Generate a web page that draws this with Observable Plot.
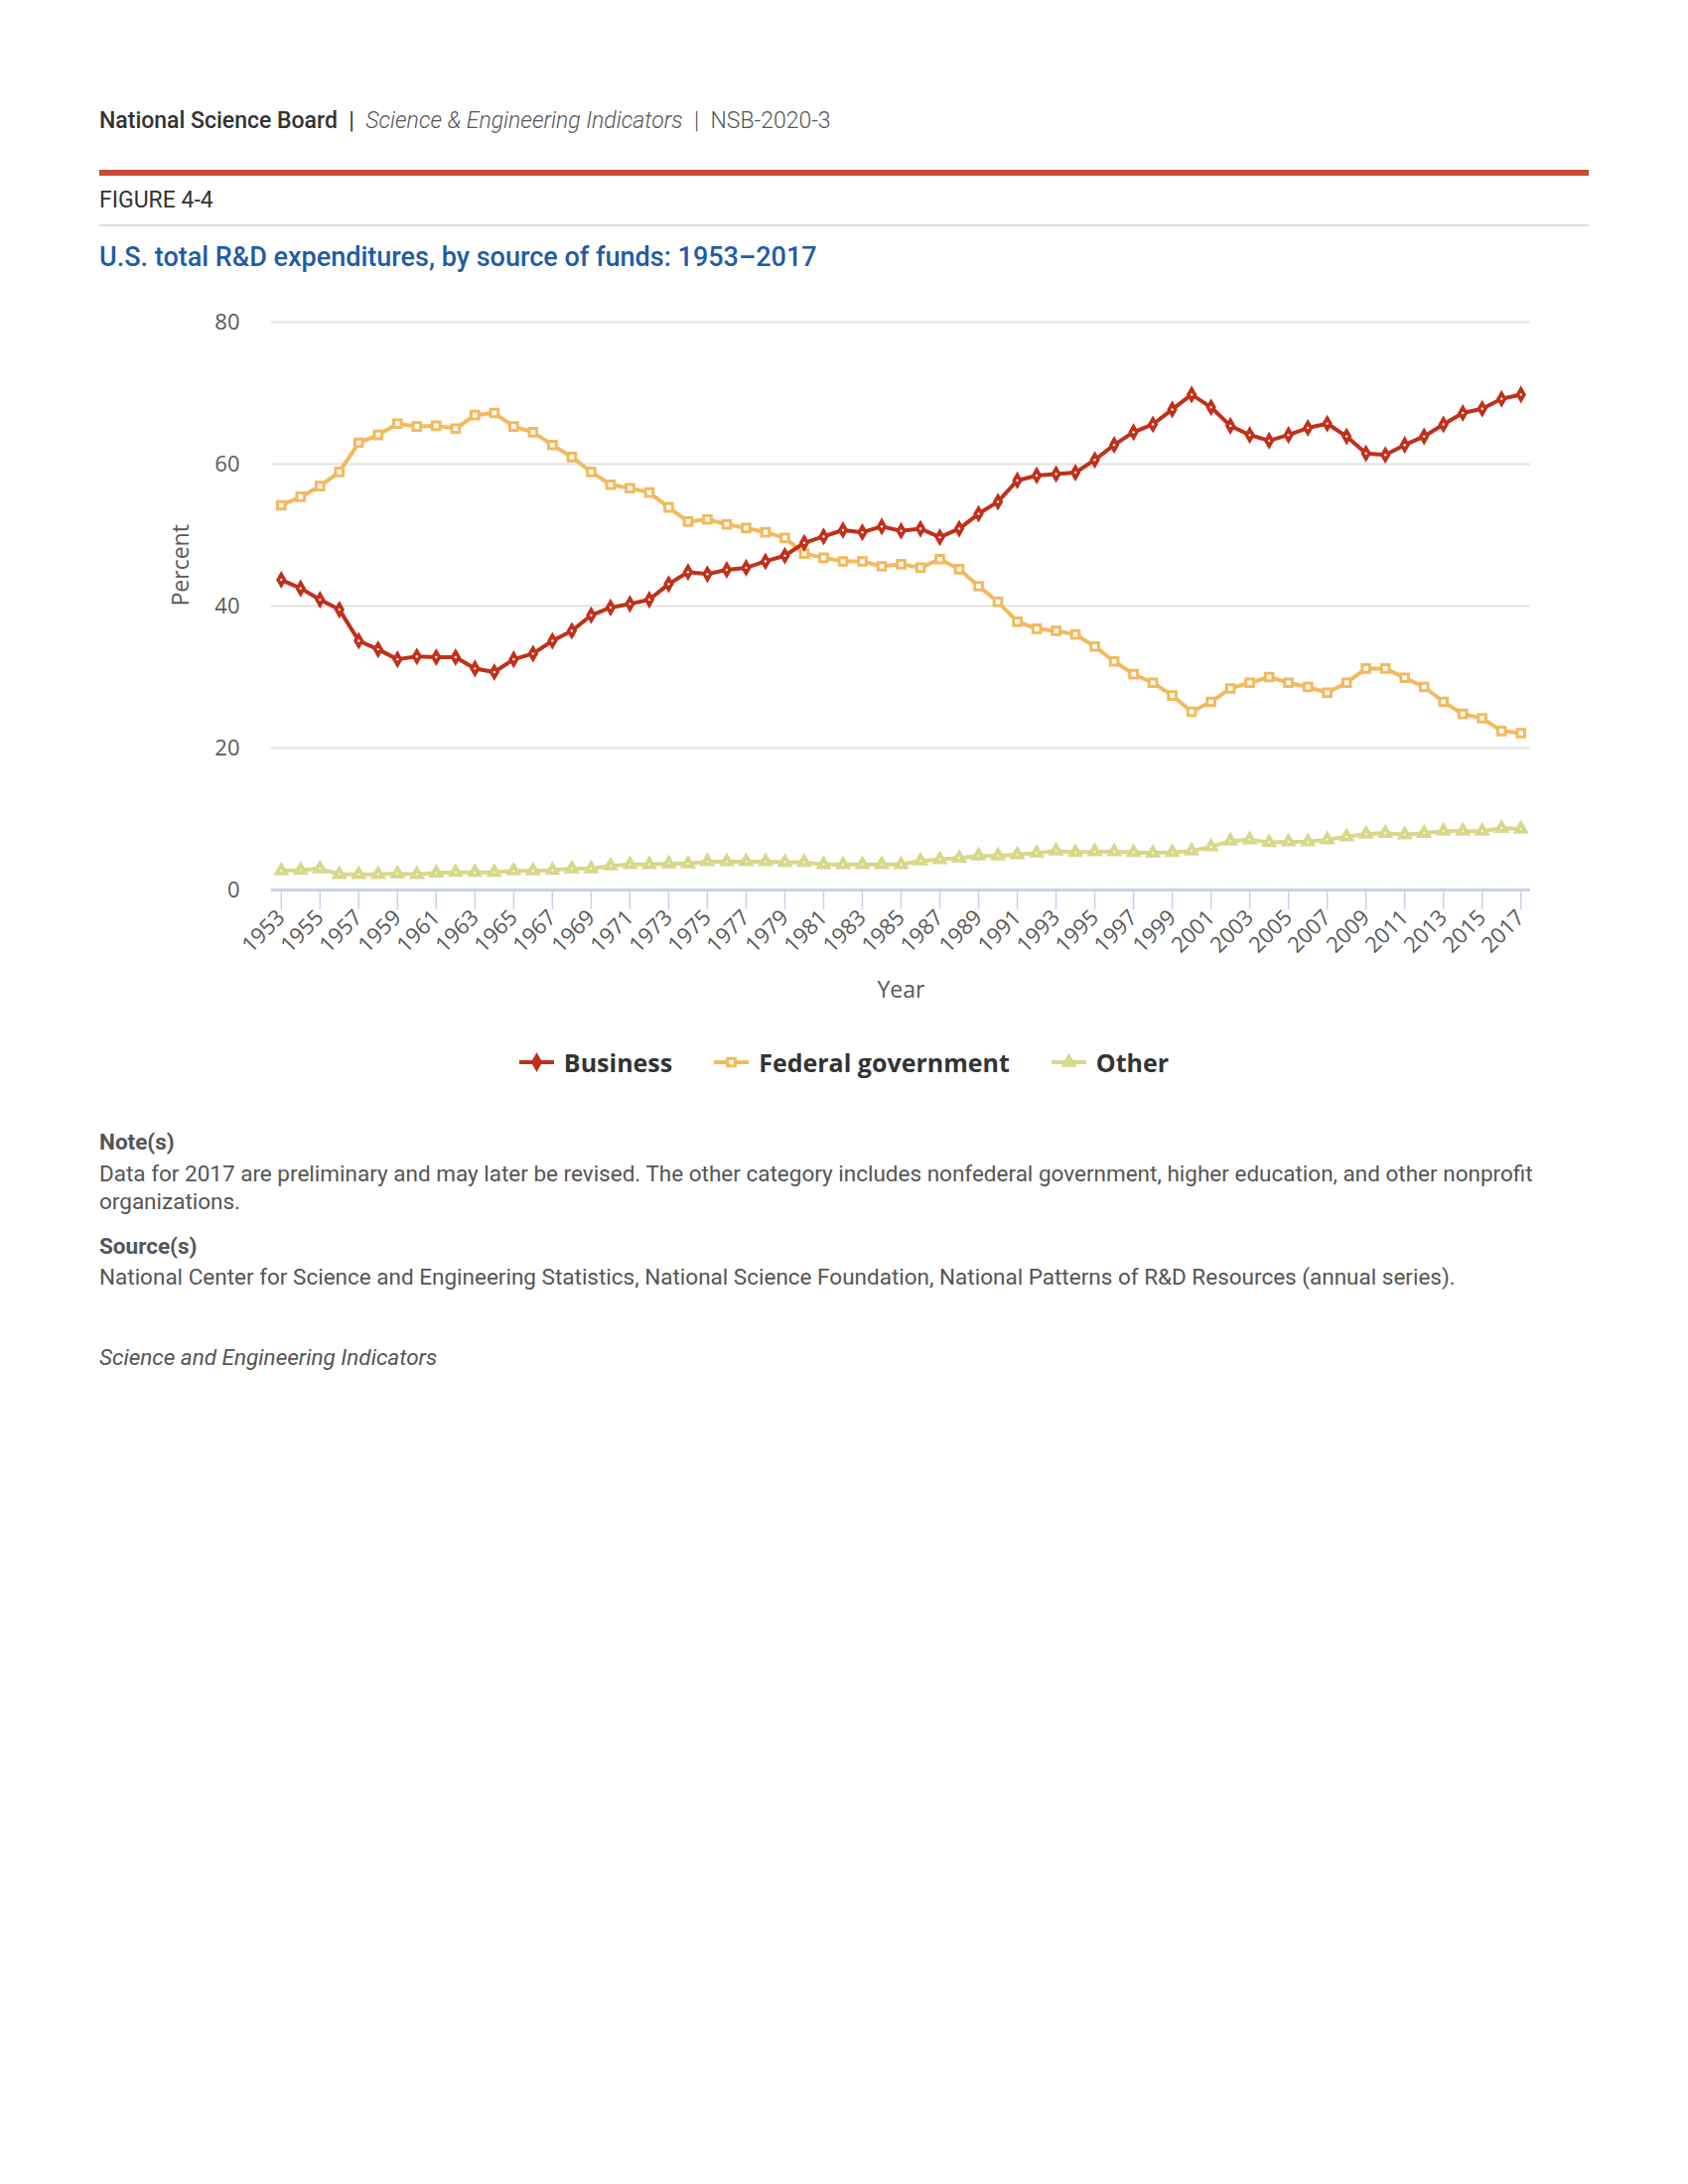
<!DOCTYPE html>
<html>
<head>
<meta charset="utf-8">
<script src="https://cdn.jsdelivr.net/npm/d3@7"></script>
<script src="https://cdn.jsdelivr.net/npm/@observablehq/plot@0.6"></script>
<style>
  html, body { margin: 0; padding: 0; background: #fff; }
  body { width: 1700px; height: 2200px; position: relative; font-family: Roboto, "Liberation Sans", sans-serif; }
  .abs { position: absolute; left: 100px; white-space: nowrap; }
  .hdr { top: 108px; font-size: 23px; line-height: 28px; color: #333; }
  .hdr b { font-weight: 500; }
  .hdr i { font-weight: 300; color: #555; }
  .hdr .lt { font-weight: 300; color: #555; }
  .redbar { top: 171px; width: 1500px; height: 6px; background: #c94a37; }
  .fig { top: 188px; font-size: 23px; line-height: 28px; color: #333; }
  .grayline { top: 226px; width: 1500px; height: 2px; background: #dcdcdc; }
  .title { top: 243px; font-size: 27px; line-height: 32px; color: #1f5ba8; font-weight: 500; }
  .note-h { font-size: 22.5px; line-height: 28px; color: #555; font-weight: 700; }
  .note-t { font-size: 22.5px; line-height: 28px; color: #555; width: 1500px; white-space: normal; }
  .foot { font-size: 22.5px; line-height: 28px; color: #555; font-style: italic; }
  #chart { position: absolute; left: 0; top: 300px; }
  #legend { position: absolute; left: 0; top: 1050px; width: 1700px; height: 40px; display: flex; justify-content: center; align-items: center; font-family: "Open Sans", sans-serif; font-weight: 700; font-size: 25px; color: #333; }
  .item { display: flex; align-items: center; margin: 0 21px; }
  .item svg { margin-right: 10px; }
</style>
</head>
<body>
<div class="abs hdr"><b>National Science Board</b>&nbsp; <span>|</span>&nbsp; <i>Science &amp; Engineering Indicators</i>&nbsp; <span class="lt">|</span>&nbsp; <span class="lt">NSB-2020-3</span></div>
<div class="abs redbar"></div>
<div class="abs fig">FIGURE 4-4</div>
<div class="abs grayline"></div>
<div class="abs title">U.S. total R&amp;D expenditures, by source of funds: 1953–2017</div>
<div id="chart"></div>
<div id="legend"></div>
<div class="abs note-h" style="top:1136px">Note(s)</div>
<div class="abs note-t" style="top:1168px">Data for 2017 are preliminary and may later be revised. The other category includes nonfederal government, higher education, and other nonprofit organizations.</div>
<div class="abs note-h" style="top:1241px">Source(s)</div>
<div class="abs note-t" style="top:1272px">National Center for Science and Engineering Statistics, National Science Foundation, National Patterns of R&amp;D Resources (annual series).</div>
<div class="abs foot" style="top:1353px">Science and Engineering Indicators</div>

<script>
const years = [1953,1954,1955,1956,1957,1958,1959,1960,1961,1962,1963,1964,1965,1966,1967,1968,1969,1970,1971,1972,1973,1974,1975,1976,1977,1978,1979,1980,1981,1982,1983,1984,1985,1986,1987,1988,1989,1990,1991,1992,1993,1994,1995,1996,1997,1998,1999,2000,2001,2002,2003,2004,2005,2006,2007,2008,2009,2010,2011,2012,2013,2014,2015,2016,2017];
const tickYears = [1953,1955,1957,1959,1961,1963,1965,1967,1969,1971,1973,1975,1977,1979,1981,1983,1985,1987,1989,1991,1993,1995,1997,1999,2001,2003,2005,2007,2009,2011,2013,2015,2017];
const yTicks = [0,20,40,60,80];

const business = [43.7,42.5,40.9,39.5,35.1,33.9,32.5,32.9,32.8,32.8,31.2,30.7,32.5,33.3,35.1,36.5,38.7,39.8,40.3,40.9,43.1,44.8,44.5,
  45.1,45.4,46.3,47.1,48.9,49.8,50.7,50.4,51.2,50.6,50.9,49.7,50.9,53.0,54.7,57.7,58.4,58.6,58.8,60.6,62.7,64.5,
  65.6,67.7,69.8,68.0,65.4,64.1,63.3,64.1,65.1,65.7,63.9,61.5,61.3,62.7,63.9,65.6,67.2,67.8,69.2,69.8];
const federal = [54.2,55.4,56.9,58.9,63.0,64.1,65.7,65.3,65.4,65.0,66.9,67.2,65.3,64.5,62.7,61.0,58.9,57.1,56.6,56.0,53.9,51.9,52.2,
  51.5,51.0,50.4,49.6,47.4,46.8,46.3,46.3,45.6,45.9,45.4,46.6,45.2,42.8,40.6,37.8,36.8,36.5,36.0,34.3,32.2,30.4,
  29.2,27.4,25.1,26.5,28.4,29.2,30.0,29.2,28.6,27.8,29.2,31.2,31.2,29.9,28.6,26.5,24.8,24.2,22.4,22.1];
const other = [2.7,2.8,3.0,2.2,2.2,2.2,2.3,2.2,2.4,2.5,2.5,2.5,2.7,2.7,2.8,3.0,3.0,3.4,3.6,3.6,3.7,3.7,4.0,
  4.0,4.0,4.0,3.9,3.9,3.6,3.6,3.6,3.6,3.6,4.1,4.3,4.5,4.8,4.8,5.0,5.2,5.5,5.3,5.4,5.4,5.3,
  5.2,5.3,5.5,6.1,6.9,7.1,6.7,6.8,6.8,7.1,7.5,7.9,8.0,7.8,8.0,8.3,8.3,8.3,8.7,8.6];

const seriesNames = ["Business", "Federal government", "Other"];
const colors = {"Business": "#c0301a", "Federal government": "#f3b95f", "Other": "#d7d88a"};
const axisBlue = "#c7d2ea";

const toRows = (vals) => years.map((y, i) => ({year: y, value: vals[i]}));
const bRows = toRows(business), fRows = toRows(federal), oRows = toRows(other);

const chart = Plot.plot({
  width: 1700,
  height: 740,
  marginTop: 24,
  marginLeft: 273,
  marginRight: 159,
  marginBottom: 144,
  style: {fontFamily: "'Open Sans', sans-serif", fontSize: "22px", color: "#595959", background: "transparent", overflow: "visible"},
  x: {type: "point", domain: years, padding: 0.5},
  y: {domain: [0, 80]},
  marks: [
    Plot.gridY(yTicks, {stroke: "#e2e2e2", strokeOpacity: 1, strokeWidth: 2}),
    Plot.axisY({ticks: yTicks, tickSize: 0, tickPadding: 32, label: null, fill: "#595959", fontSize: 22}),
    Plot.axisX({ticks: tickYears, tickSize: 20, tickRotate: -45, tickPadding: 4, stroke: axisBlue, strokeWidth: 1.5, fill: "#595959", label: null, fontSize: 22, tickFormat: d => String(d)}),
    Plot.ruleY([0], {stroke: axisBlue, strokeWidth: 3}),
    Plot.text(["Year"], {frameAnchor: "bottom", dy: 101, fill: "#595959", fontSize: 23, lineAnchor: "middle"}),
    Plot.text(["Percent"], {frameAnchor: "left", dx: -91, rotate: -90, fill: "#595959", fontSize: 23}),
    Plot.line(oRows, {x: "year", y: "value", stroke: colors["Other"], strokeWidth: 4}),
    Plot.dot(oRows, {x: "year", y: "value", symbol: "triangle", r: 6, fill: colors["Other"]}),
    Plot.dot(oRows, {x: "year", y: "value", r: 1, fill: "white"}),
    Plot.line(fRows, {x: "year", y: "value", stroke: colors["Federal government"], strokeWidth: 4}),
    Plot.dot(fRows, {x: "year", y: "value", symbol: "square", r: 4.3, fill: "white", stroke: colors["Federal government"], strokeWidth: 3}),
    Plot.line(bRows, {x: "year", y: "value", stroke: colors["Business"], strokeWidth: 4}),
    Plot.dot(bRows, {x: "year", y: "value", symbol: "diamond", r: 5.5, fill: colors["Business"]}),
    Plot.dot(bRows, {x: "year", y: "value", r: 1.2, fill: "white"})
  ]
});
document.getElementById("chart").appendChild(chart);

// Legend
const symbolFor = {"Business": d3.symbolDiamond, "Federal government": d3.symbolSquare, "Other": d3.symbolTriangle};
const legend = d3.select("#legend");
seriesNames.forEach(name => {
  const item = legend.append("div").attr("class", "item");
  const svg = item.append("svg").attr("width", 35).attr("height", 20);
  svg.append("line").attr("x1", 0).attr("x2", 35).attr("y1", 10).attr("y2", 10)
    .attr("stroke", colors[name]).attr("stroke-width", 4);
  const size = name === "Federal government" ? Math.PI * 4.3 * 4.3 : Math.PI * 36;
  const p = svg.append("path").attr("transform", "translate(17.5,10)")
    .attr("d", d3.symbol(symbolFor[name], size)());
  if (name === "Federal government") p.attr("fill", "white").attr("stroke", colors[name]).attr("stroke-width", 3);
  else p.attr("fill", colors[name]);
  item.append("span").text(name);
});
</script>
</body>
</html>
